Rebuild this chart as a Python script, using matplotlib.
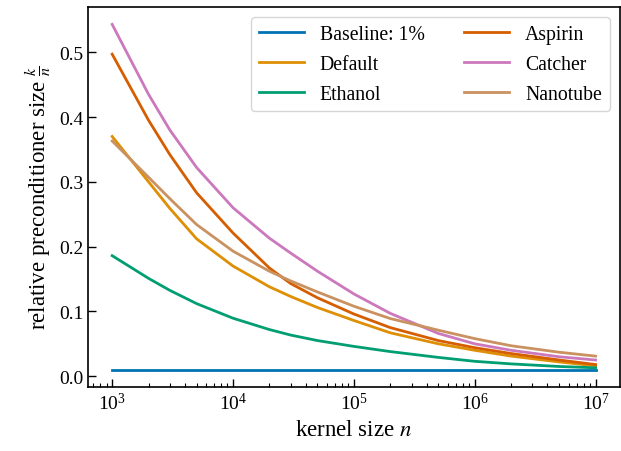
import numpy as np
import matplotlib
matplotlib.use("Agg")
import matplotlib.pyplot as plt

n = [1e3, 2e3, 3e3, 5e3, 1e4, 2e4, 3e4, 5e4, 1e5, 2e5, 5e5, 1e6, 2e6, 5e6, 1e7]

baseline = [0.01] * len(n)
default = [0.370, 0.300, 0.259, 0.212, 0.170, 0.138, 0.123, 0.106, 0.086, 0.067, 0.050, 0.040, 0.031, 0.022, 0.016]
ethanol = [0.186, 0.151, 0.1325, 0.112, 0.0895, 0.072, 0.0635, 0.055, 0.046, 0.038, 0.029, 0.023, 0.019, 0.015, 0.013]
aspirin = [0.497, 0.395, 0.342, 0.283, 0.221, 0.167, 0.143, 0.121, 0.096, 0.075, 0.055, 0.044, 0.035, 0.025, 0.018]
catcher = [0.543, 0.435, 0.380, 0.322, 0.260, 0.213, 0.190, 0.162, 0.127, 0.097, 0.066, 0.050, 0.040, 0.030, 0.025]
nanotube = [0.363, 0.307, 0.274, 0.234, 0.193, 0.162, 0.147, 0.130, 0.108, 0.089, 0.071, 0.058, 0.047, 0.037, 0.031]

labels = ["Baseline: 1%", "Default", "Ethanol", "Aspirin", "Catcher", "Nanotube"]
series = [baseline, default, ethanol, aspirin, catcher, nanotube]
colors = ["#0173b2", "#de8f05", "#029e73", "#d55e00", "#cc78bc", "#ca9161"]

plt.rcParams["font.family"] = ["Liberation Serif", "DejaVu Serif"]
plt.rcParams["mathtext.fontset"] = "stix"
plt.rcParams["font.size"] = 14

fig = plt.figure(figsize=(6.21, 4.52), dpi=100)
ax = fig.add_axes([0.1417, 0.1416, 0.8563, 0.8405])
for y, lab, c in zip(series, labels, colors):
    ax.plot(n, y, color=c, lw=2.0, label=lab)

ax.set_xscale("log")
ax.set_xticks([1e3, 1e4, 1e5, 1e6, 1e7])
ax.tick_params(axis="both", which="both", direction="in", labelsize=14)
ax.tick_params(axis="both", which="major", length=5.5, width=1)
ax.tick_params(axis="x", which="minor", length=3, width=0.8)
ax.set_yticks([0.0, 0.1, 0.2, 0.3, 0.4, 0.5])
for s in ax.spines.values():
    s.set_linewidth(1.2)
ax.set_xlabel(r"kernel size $n$", fontsize=16.5)
ax.set_ylabel(r"relative preconditioner size $\frac{k}{n}$", fontsize=16.5)
ax.legend(ncol=2, loc="upper right", fontsize=14.2, handlelength=2.3,
          columnspacing=2.0, labelspacing=0.55)

fig.savefig("out.png", dpi=100)
